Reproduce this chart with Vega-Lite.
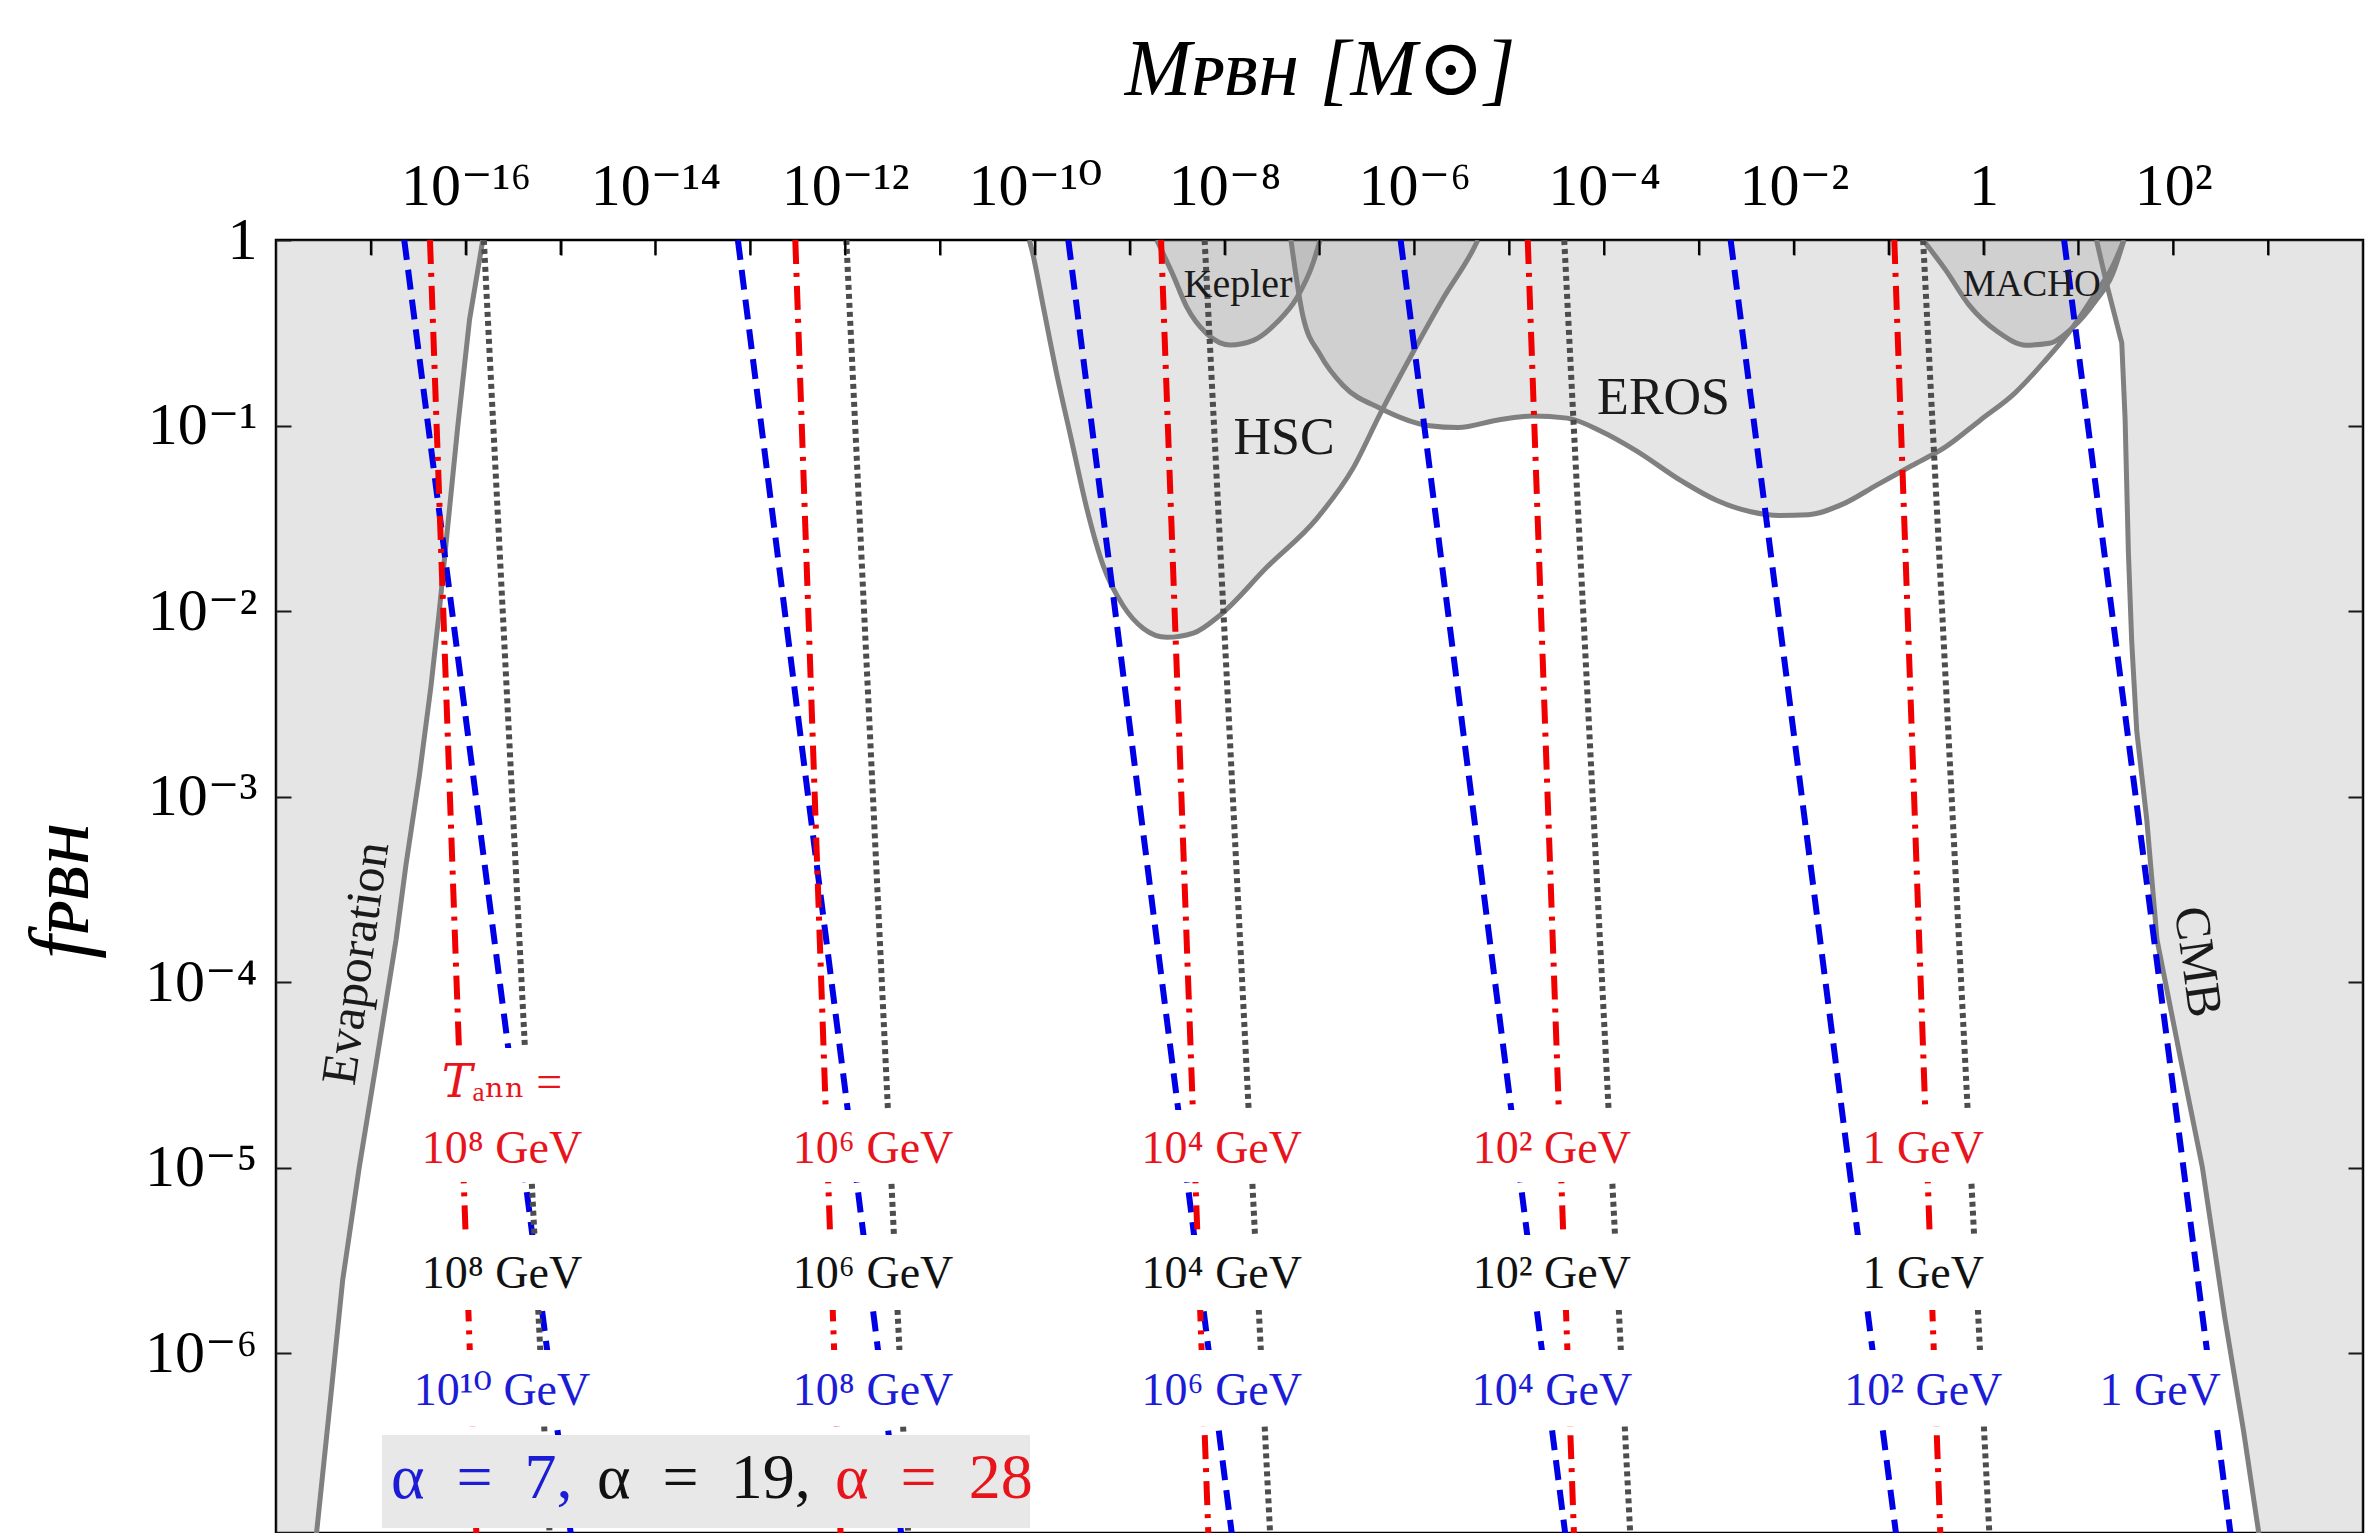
{
  "$schema": "https://vega.github.io/schema/vega-lite/v6.json",
  "width": 2087,
  "height": 1293,
  "autosize": {"type": "none"},
  "padding": {"left": 276, "top": 240, "right": 5, "bottom": 0},
  "background": "white",
  "config": {
    "font": "Liberation Serif, DejaVu Serif",
    "view": {"stroke": "black", "strokeWidth": 2.5},
    "axis": {"labelFont": "Liberation Serif, DejaVu Serif", "titleFont": "Liberation Serif, DejaVu Serif", "labelColor": "black", "titleColor": "black", "tickColor": "black", "tickWidth": 2, "ticks": true, "grid": false, "domain": false}
  },
  "datasets": {
    "regions": [
      {"region": "HSC", "i": 0, "M": 8.71e-11, "f": 1},
      {"region": "HSC", "i": 1, "M": 9.247e-11, "f": 0.8933},
      {"region": "HSC", "i": 2, "M": 1.227e-10, "f": 0.4355},
      {"region": "HSC", "i": 3, "M": 1.698e-10, "f": 0.1897},
      {"region": "HSC", "i": 4, "M": 2.443e-10, "f": 0.08241},
      {"region": "HSC", "i": 5, "M": 3.516e-10, "f": 0.03589},
      {"region": "HSC", "i": 6, "M": 5.26e-10, "f": 0.0175},
      {"region": "HSC", "i": 7, "M": 8.551e-10, "f": 0.01064},
      {"region": "HSC", "i": 8, "M": 1.39e-9, "f": 0.008054},
      {"region": "HSC", "i": 9, "M": 2.455e-9, "f": 0.007211},
      {"region": "HSC", "i": 10, "M": 4.677e-9, "f": 0.007603},
      {"region": "HSC", "i": 11, "M": 8.954e-9, "f": 0.009506},
      {"region": "HSC", "i": 12, "M": 2.78e-8, "f": 0.0172},
      {"region": "HSC", "i": 13, "M": 9.354e-8, "f": 0.0315},
      {"region": "HSC", "i": 14, "M": 2.275e-7, "f": 0.05929},
      {"region": "HSC", "i": 15, "M": 4.345e-7, "f": 0.1153},
      {"region": "HSC", "i": 16, "M": 9.75e-7, "f": 0.25},
      {"region": "HSC", "i": 17, "M": 2.023e-6, "f": 0.4864},
      {"region": "HSC", "i": 18, "M": 4.188e-6, "f": 0.8933},
      {"region": "HSC", "i": 19, "M": 4.677e-6, "f": 1},
      {"region": "Kepler", "i": 0, "M": 1.923e-9, "f": 1},
      {"region": "Kepler", "i": 1, "M": 2.877e-9, "f": 0.6427},
      {"region": "Kepler", "i": 2, "M": 3.981e-9, "f": 0.4355},
      {"region": "Kepler", "i": 3, "M": 6.471e-9, "f": 0.3126},
      {"region": "Kepler", "i": 4, "M": 1.14e-8, "f": 0.2716},
      {"region": "Kepler", "i": 5, "M": 2.009e-8, "f": 0.2877},
      {"region": "Kepler", "i": 6, "M": 3.54e-8, "f": 0.3589},
      {"region": "Kepler", "i": 7, "M": 5.754e-8, "f": 0.4864},
      {"region": "Kepler", "i": 8, "M": 8.61e-8, "f": 0.7586},
      {"region": "Kepler", "i": 9, "M": 1.014e-7, "f": 1},
      {"region": "EROS", "i": 0, "M": 5.0e-8, "f": 1},
      {"region": "EROS", "i": 1, "M": 6.699e-8, "f": 0.3873},
      {"region": "EROS", "i": 2, "M": 1.019e-7, "f": 0.2404},
      {"region": "EROS", "i": 3, "M": 1.774e-7, "f": 0.1644},
      {"region": "EROS", "i": 4, "M": 4.406e-7, "f": 0.1236},
      {"region": "EROS", "i": 5, "M": 1.439e-6, "f": 0.09977},
      {"region": "EROS", "i": 6, "M": 2.891e-6, "f": 0.0975},
      {"region": "EROS", "i": 7, "M": 7.638e-6, "f": 0.1072},
      {"region": "EROS", "i": 8, "M": 1.766e-5, "f": 0.1125},
      {"region": "EROS", "i": 9, "M": 4.074e-5, "f": 0.1096},
      {"region": "EROS", "i": 10, "M": 9.397e-5, "f": 0.0929},
      {"region": "EROS", "i": 11, "M": 2.168e-4, "f": 0.07328},
      {"region": "EROS", "i": 12, "M": 6.607e-4, "f": 0.05012},
      {"region": "EROS", "i": 13, "M": 1.528e-3, "f": 0.03954},
      {"region": "EROS", "i": 14, "M": 3.516e-3, "f": 0.03428},
      {"region": "EROS", "i": 15, "M": 7.063e-3, "f": 0.03273},
      {"region": "EROS", "i": 16, "M": 1.416e-2, "f": 0.03304},
      {"region": "EROS", "i": 17, "M": 3.273e-2, "f": 0.03767},
      {"region": "EROS", "i": 18, "M": 7.551e-2, "f": 0.04786},
      {"region": "EROS", "i": 19, "M": 0.1742, "f": 0.06067},
      {"region": "EROS", "i": 20, "M": 0.4018, "f": 0.07691},
      {"region": "EROS", "i": 21, "M": 0.929, "f": 0.1072},
      {"region": "EROS", "i": 22, "M": 2.138, "f": 0.1496},
      {"region": "EROS", "i": 23, "M": 4.295, "f": 0.2188},
      {"region": "EROS", "i": 24, "M": 8.61, "f": 0.3357},
      {"region": "EROS", "i": 25, "M": 15.07, "f": 0.514},
      {"region": "EROS", "i": 26, "M": 22.86, "f": 0.7178},
      {"region": "EROS", "i": 27, "M": 30.2, "f": 1},
      {"region": "MACHO", "i": 0, "M": 0.2301, "f": 1},
      {"region": "MACHO", "i": 1, "M": 0.4027, "f": 0.6839},
      {"region": "MACHO", "i": 2, "M": 0.7015, "f": 0.4467},
      {"region": "MACHO", "i": 3, "M": 1.409, "f": 0.3199},
      {"region": "MACHO", "i": 4, "M": 2.825, "f": 0.271},
      {"region": "MACHO", "i": 5, "M": 4.932, "f": 0.2773},
      {"region": "MACHO", "i": 6, "M": 8.61, "f": 0.3357},
      {"region": "MACHO", "i": 7, "M": 15.07, "f": 0.4677},
      {"region": "MACHO", "i": 8, "M": 22.86, "f": 0.6531},
      {"region": "MACHO", "i": 9, "M": 30.2, "f": 1},
      {"region": "Evaporation", "i": 0, "M": 1.514e-16, "f": 1},
      {"region": "Evaporation", "i": 1, "M": 1.096e-16, "f": 0.3707},
      {"region": "Evaporation", "i": 2, "M": 8.222e-17, "f": 0.0975},
      {"region": "Evaporation", "i": 3, "M": 6.194e-17, "f": 0.02307},
      {"region": "Evaporation", "i": 4, "M": 5.272e-17, "f": 0.01005},
      {"region": "Evaporation", "i": 5, "M": 4.305e-17, "f": 0.003945},
      {"region": "Evaporation", "i": 6, "M": 3.243e-17, "f": 0.001294},
      {"region": "Evaporation", "i": 7, "M": 2.344e-17, "f": 4.276e-4},
      {"region": "Evaporation", "i": 8, "M": 1.841e-17, "f": 1.683e-4},
      {"region": "Evaporation", "i": 9, "M": 1.132e-17, "f": 3.581e-5},
      {"region": "Evaporation", "i": 10, "M": 7.551e-18, "f": 1.007e-5},
      {"region": "Evaporation", "i": 11, "M": 5.047e-18, "f": 2.477e-6},
      {"region": "Evaporation", "i": 12, "M": 3.802e-18, "f": 6.012e-7},
      {"region": "Evaporation", "i": 13, "M": 2.858e-18, "f": 1.479e-7},
      {"region": "Evaporation", "i": 14, "M": 2.576e-18, "f": 8.913e-8},
      {"region": "CMB", "i": 0, "M": 15.5, "f": 1},
      {"region": "CMB", "i": 1, "M": 19.91, "f": 0.5754},
      {"region": "CMB", "i": 2, "M": 28.64, "f": 0.2793},
      {"region": "CMB", "i": 3, "M": 31.05, "f": 0.1089},
      {"region": "CMB", "i": 4, "M": 33.65, "f": 0.02065},
      {"region": "CMB", "i": 5, "M": 36.48, "f": 0.006823},
      {"region": "CMB", "i": 6, "M": 41.21, "f": 0.002254},
      {"region": "CMB", "i": 7, "M": 52.6, "f": 7.464e-4},
      {"region": "CMB", "i": 8, "M": 67.45, "f": 1.683e-4},
      {"region": "CMB", "i": 9, "M": 116.4, "f": 4.111e-5},
      {"region": "CMB", "i": 10, "M": 202.3, "f": 1.007e-5},
      {"region": "CMB", "i": 11, "M": 349.9, "f": 1.545e-6},
      {"region": "CMB", "i": 12, "M": 552.1, "f": 3.767e-7},
      {"region": "CMB", "i": 13, "M": 796.2, "f": 1.072e-7},
      {"region": "CMB", "i": 14, "M": 851.1, "f": 8.913e-8}
    ],
    "curves": [
      {"id": "b1", "alpha": "7", "M": 2.249e-17, "f": 1},
      {"id": "b1", "alpha": "7", "M": 1.3e-15, "f": 1e-7},
      {"id": "r1", "alpha": "28", "M": 4.198e-17, "f": 1},
      {"id": "r1", "alpha": "28", "M": 1.3e-16, "f": 1e-7},
      {"id": "k1", "alpha": "19", "M": 1.552e-16, "f": 1},
      {"id": "k1", "alpha": "19", "M": 7.709e-16, "f": 1e-7},
      {"id": "b2", "alpha": "7", "M": 7.396e-14, "f": 1},
      {"id": "b2", "alpha": "7", "M": 3.954e-12, "f": 1e-7},
      {"id": "r2", "alpha": "28", "M": 2.979e-13, "f": 1},
      {"id": "r2", "alpha": "28", "M": 8.974e-13, "f": 1e-7},
      {"id": "k2", "alpha": "19", "M": 1.028e-12, "f": 1},
      {"id": "k2", "alpha": "19", "M": 4.645e-12, "f": 1e-7},
      {"id": "b3", "alpha": "7", "M": 2.249e-10, "f": 1},
      {"id": "b3", "alpha": "7", "M": 1.208e-8, "f": 1e-7},
      {"id": "r3", "alpha": "28", "M": 2.138e-9, "f": 1},
      {"id": "r3", "alpha": "28", "M": 6.761e-9, "f": 1e-7},
      {"id": "k3", "alpha": "19", "M": 6.152e-9, "f": 1},
      {"id": "k3", "alpha": "19", "M": 3.034e-8, "f": 1e-7},
      {"id": "b4", "alpha": "7", "M": 7.161e-7, "f": 1},
      {"id": "b4", "alpha": "7", "M": 3.954e-5, "f": 1e-7},
      {"id": "r4", "alpha": "28", "M": 1.567e-5, "f": 1},
      {"id": "r4", "alpha": "28", "M": 4.831e-5, "f": 1e-7},
      {"id": "k4", "alpha": "19", "M": 3.802e-5, "f": 1},
      {"id": "k4", "alpha": "19", "M": 1.897e-4, "f": 1e-7},
      {"id": "b5", "alpha": "7", "M": 2.158e-3, "f": 1},
      {"id": "b5", "alpha": "7", "M": 0.1213, "f": 1e-7},
      {"id": "r5", "alpha": "28", "M": 0.1146, "f": 1},
      {"id": "r5", "alpha": "28", "M": 0.3516, "f": 1e-7},
      {"id": "k5", "alpha": "19", "M": 0.2307, "f": 1},
      {"id": "k5", "alpha": "19", "M": 1.159, "f": 1e-7},
      {"id": "b6", "alpha": "7", "M": 7.063, "f": 1},
      {"id": "b6", "alpha": "7", "M": 407.4, "f": 1e-7}
    ],
    "boxes": [
      {"M": 2.649e-17, "M2": 2.249e-15, "f": 8.356e-6, "f2": 4.406e-5},
      {"M": 2.649e-17, "M2": 2.249e-15, "f": 1.706e-6, "f2": 4.325e-6},
      {"M": 2.183e-17, "M2": 2.871e-15, "f": 4.036e-7, "f2": 1.038e-6},
      {"M": 2.158e-13, "M2": 1.832e-11, "f": 8.356e-6, "f2": 2.042e-5},
      {"M": 2.158e-13, "M2": 1.832e-11, "f": 1.706e-6, "f2": 4.325e-6},
      {"M": 2.158e-13, "M2": 1.832e-11, "f": 4.036e-7, "f2": 1.038e-6},
      {"M": 1.057e-9, "M2": 8.974e-8, "f": 8.356e-6, "f2": 2.042e-5},
      {"M": 1.057e-9, "M2": 8.974e-8, "f": 1.706e-6, "f2": 4.325e-6},
      {"M": 1.057e-9, "M2": 8.974e-8, "f": 4.036e-7, "f2": 1.038e-6},
      {"M": 3.034e-6, "M2": 2.576e-4, "f": 8.356e-6, "f2": 2.042e-5},
      {"M": 3.034e-6, "M2": 2.576e-4, "f": 1.706e-6, "f2": 4.325e-6},
      {"M": 3.034e-6, "M2": 2.576e-4, "f": 4.036e-7, "f2": 1.038e-6},
      {"M": 4.426e-2, "M2": 1.23, "f": 8.356e-6, "f2": 2.042e-5},
      {"M": 4.217e-2, "M2": 1.262, "f": 1.706e-6, "f2": 4.325e-6},
      {"M": 2.529e-2, "M2": 2.099, "f": 4.036e-7, "f2": 1.038e-6},
      {"M": 13.27, "M2": 369.0, "f": 4.036e-7, "f2": 1.038e-6}
    ],
    "legendbox": [
      {"M": 1.309e-17, "M2": 8.892e-11, "f": 1.14e-7, "f2": 3.614e-7}
    ],
    "decades": [
      {"M": 1e-17}, {"M": 1e-16}, {"M": 1e-15}, {"M": 1e-14}, {"M": 1e-13}, {"M": 1e-12}, {"M": 1e-11},
      {"M": 1e-10}, {"M": 1e-9}, {"M": 1e-8}, {"M": 1e-7}, {"M": 1e-6}, {"M": 1e-5}, {"M": 1e-4},
      {"M": 0.001}, {"M": 0.01}, {"M": 0.1}, {"M": 1}, {"M": 10}, {"M": 100}, {"M": 1000}
    ],
    "labels": [
      {"label": "𝑇ₐₙₙ =", "M": 2.41e-16, "f": 2.399e-5, "alpha": "28"},
      {"label": "10⁸ GeV", "M": 2.41e-16, "f": 1.057e-5, "alpha": "28"},
      {"label": "10⁸ GeV", "M": 2.41e-16, "f": 2.239e-6, "alpha": "19"},
      {"label": "10¹⁰ GeV", "M": 2.41e-16, "f": 5.248e-7, "alpha": "7"},
      {"label": "10⁶ GeV", "M": 1.968e-12, "f": 1.057e-5, "alpha": "28"},
      {"label": "10⁶ GeV", "M": 1.968e-12, "f": 2.239e-6, "alpha": "19"},
      {"label": "10⁸ GeV", "M": 1.968e-12, "f": 5.248e-7, "alpha": "7"},
      {"label": "10⁴ GeV", "M": 9.333e-9, "f": 1.057e-5, "alpha": "28"},
      {"label": "10⁴ GeV", "M": 9.333e-9, "f": 2.239e-6, "alpha": "19"},
      {"label": "10⁶ GeV", "M": 9.333e-9, "f": 5.248e-7, "alpha": "7"},
      {"label": "10² GeV", "M": 2.818e-5, "f": 1.057e-5, "alpha": "28"},
      {"label": "10² GeV", "M": 2.818e-5, "f": 2.239e-6, "alpha": "19"},
      {"label": "10⁴ GeV", "M": 2.818e-5, "f": 5.248e-7, "alpha": "7"},
      {"label": "1 GeV", "M": 0.2312, "f": 1.057e-5, "alpha": "28"},
      {"label": "1 GeV", "M": 0.2312, "f": 2.239e-6, "alpha": "19"},
      {"label": "10² GeV", "M": 0.2312, "f": 5.248e-7, "alpha": "7"},
      {"label": "1 GeV", "M": 72.61, "f": 5.248e-7, "alpha": "7"}
    ],
    "legend": [
      {"label": "α\u2002=\u20027,", "M": 1.629e-17, "f": 1.656e-7, "alpha": "7"},
      {"label": "α\u2002=\u200219,", "M": 2.421e-15, "f": 1.656e-7, "alpha": "19"},
      {"label": "α\u2002=\u200228", "M": 7.816e-13, "f": 1.656e-7, "alpha": "28"}
    ],
    "annot": [
      {"label": "Kepler", "M": 1.384e-8, "f": 0.5715},
      {"label": "HSC", "M": 4.227e-8, "f": 0.0861},
      {"label": "EROS", "M": 4.236e-4, "f": 0.1406},
      {"label": "MACHO", "M": 3.221, "f": 0.5715},
      {"label": "Evaporation", "M": 7.079e-18, "f": 1.259e-4},
      {"label": "CMB", "M": 178.2, "f": 1.282e-4}
    ]
  },
  "encoding": {
    "x": {"field": "M", "type": "quantitative", "scale": {"type": "log", "domain": [1e-18, 10000], "nice": false},
      "axis": {"orient": "top", "offset": -15, "values": [1e-17, 1e-16, 1e-15, 1e-14, 1e-13, 1e-12, 1e-11, 1e-10, 1e-9, 1e-8, 1e-7, 1e-6, 1e-5, 1e-4, 0.001, 0.01, 0.1, 1, 10, 100, 1000],
        "labelExpr": "['','10⁻¹⁶','','10⁻¹⁴','','10⁻¹²','','10⁻¹⁰','','10⁻⁸','','10⁻⁶','','10⁻⁴','','10⁻²','','1','','10²',''][round(log(datum.value)/LN10)+17]",
        "labelFontSize": 60, "labelPadding": 36, "labelBaseline": "alphabetic", "labelOverlap": false, "labelFlush": false,
        "ticks": true, "tickSize": 15, "tickWidth": 2, "tickColor": "black", "tickOpacity": 1,
        "title": "Mᴘʙʜ [M⊙]", "titleFontSize": 80, "titleFontWeight": "normal", "titleFontStyle": "italic", "titleBaseline": "alphabetic", "titleY": -161}}
  },
  "layer": [
    {
      "data": {"name": "regions"},
      "transform": [{"filter": {"field": "region", "oneOf": ["HSC", "Kepler", "EROS", "MACHO"]}}],
      "mark": {"type": "area", "fill": "#7f7f7f", "fillOpacity": 0.2, "interpolate": "monotone", "clip": true},
      "encoding": {
        "y": {"field": "f", "type": "quantitative", "stack": null, "scale": {"type": "log", "domain": [1.0715e-7, 1], "nice": false},
          "axis": {"orient": "left", "values": [1e-6, 1e-5, 1e-4, 0.001, 0.01, 0.1, 1],
            "labelExpr": "['10⁻⁶','10⁻⁵','10⁻⁴','10⁻³','10⁻²','10⁻¹','1'][round(log(datum.value)/LN10)+6]",
            "labelFontSize": 60, "labelPadding": 34, "labelBaseline": "middle", "labelOverlap": false, "labelFlush": false,
            "tickSize": -15,
            "title": "fᴘʙʜ", "titleFontSize": 84, "titleFontWeight": "normal", "titleFontStyle": "italic", "titleAngle": -90, "titleBaseline": "middle", "titleAlign": "center", "titleX": -214, "titleY": 650}},
        "y2": {"datum": 1},
        "detail": {"field": "region"}
      }
    },
    {
      "data": {"name": "regions"},
      "transform": [{"filter": "datum.region == 'Evaporation'"}],
      "mark": {"type": "area", "orient": "horizontal", "fill": "#7f7f7f", "fillOpacity": 0.2, "clip": true},
      "encoding": {
        "y": {"field": "f", "type": "quantitative", "stack": null, "scale": {"type": "log", "domain": [1.0715e-7, 1], "nice": false},
          "axis": {"orient": "right", "values": [1e-6, 1e-5, 1e-4, 0.001, 0.01, 0.1], "labels": false, "tickSize": -15, "title": null}},
        "x2": {"datum": 1e-18}
      }
    },
    {
      "data": {"name": "regions"},
      "transform": [{"filter": "datum.region == 'CMB'"}],
      "mark": {"type": "area", "orient": "horizontal", "fill": "#7f7f7f", "fillOpacity": 0.2, "clip": true},
      "encoding": {
        "y": {"field": "f", "type": "quantitative", "stack": null, "scale": {"type": "log", "domain": [1.0715e-7, 1], "nice": false}, "axis": null},
        "x2": {"datum": 10000}
      }
    },
    {
      "data": {"name": "regions"},
      "transform": [{"filter": {"field": "region", "oneOf": ["HSC", "Kepler", "EROS", "MACHO"]}}],
      "mark": {"type": "line", "stroke": "#808080", "strokeWidth": 5, "interpolate": "monotone", "clip": true},
      "encoding": {
        "y": {"field": "f", "type": "quantitative", "scale": {"type": "log", "domain": [1.0715e-7, 1], "nice": false}, "axis": null},
        "detail": {"field": "region"},
        "order": {"field": "i"}
      }
    },
    {
      "data": {"name": "regions"},
      "transform": [{"filter": {"field": "region", "oneOf": ["Evaporation", "CMB"]}}],
      "mark": {"type": "line", "stroke": "#808080", "strokeWidth": 5, "clip": true},
      "encoding": {
        "y": {"field": "f", "type": "quantitative", "scale": {"type": "log", "domain": [1.0715e-7, 1], "nice": false}, "axis": null},
        "detail": {"field": "region"},
        "order": {"field": "i"}
      }
    },
    {
      "data": {"name": "curves"},
      "mark": {"type": "line", "strokeWidth": 6, "strokeCap": "butt", "clip": true},
      "encoding": {
        "y": {"field": "f", "type": "quantitative", "scale": {"type": "log", "domain": [1.0715e-7, 1], "nice": false}, "axis": null},
        "detail": {"field": "id"},
        "stroke": {"field": "alpha", "type": "nominal", "scale": {"domain": ["7", "19", "28"], "range": ["#0000e6", "#4d4d4d", "#f00000"]}, "legend": null},
        "strokeDash": {"field": "alpha", "type": "nominal", "scale": {"domain": ["7", "19", "28"], "range": [[20, 10], [5, 4], [24, 9, 4, 9]]}, "legend": null}
      }
    },
    {
      "data": {"name": "boxes"},
      "mark": {"type": "rect", "fill": "white", "clip": true},
      "encoding": {
        "x2": {"field": "M2"},
        "y": {"field": "f", "type": "quantitative", "scale": {"type": "log", "domain": [1.0715e-7, 1], "nice": false}, "axis": null},
        "y2": {"field": "f2"}
      }
    },
    {
      "data": {"name": "legendbox"},
      "mark": {"type": "rect", "fill": "#e8e8e8", "clip": true},
      "encoding": {
        "x2": {"field": "M2"},
        "y": {"field": "f", "type": "quantitative", "scale": {"type": "log", "domain": [1.0715e-7, 1], "nice": false}, "axis": null},
        "y2": {"field": "f2"}
      }
    },
    {
      "data": {"name": "labels"},
      "mark": {"type": "text", "fontSize": 46, "align": "center", "baseline": "alphabetic"},
      "encoding": {
        "y": {"field": "f", "type": "quantitative", "scale": {"type": "log", "domain": [1.0715e-7, 1], "nice": false}, "axis": null},
        "text": {"field": "label"},
        "color": {"field": "alpha", "type": "nominal", "scale": {"domain": ["7", "19", "28"], "range": ["#1c1cd6", "#111111", "#e8141c"]}, "legend": null}
      }
    },
    {
      "data": {"name": "legend"},
      "mark": {"type": "text", "fontSize": 64, "align": "left", "baseline": "alphabetic"},
      "encoding": {
        "y": {"field": "f", "type": "quantitative", "scale": {"type": "log", "domain": [1.0715e-7, 1], "nice": false}, "axis": null},
        "text": {"field": "label"},
        "color": {"field": "alpha", "type": "nominal", "scale": {"domain": ["7", "19", "28"], "range": ["#1c1cd6", "#111111", "#e8141c"]}, "legend": null}
      }
    },
    {
      "data": {"name": "annot"},
      "transform": [{"filter": "datum.label == 'Kepler'"}],
      "mark": {"type": "text", "fontSize": 40, "align": "center", "baseline": "middle", "color": "#1a1a1a"},
      "encoding": {
        "y": {"field": "f", "type": "quantitative", "scale": {"type": "log", "domain": [1.0715e-7, 1], "nice": false}, "axis": null},
        "text": {"field": "label"}
      }
    },
    {
      "data": {"name": "annot"},
      "transform": [{"filter": "datum.label == 'HSC' || datum.label == 'EROS'"}],
      "mark": {"type": "text", "fontSize": 52, "align": "center", "baseline": "middle", "color": "#1a1a1a"},
      "encoding": {
        "y": {"field": "f", "type": "quantitative", "scale": {"type": "log", "domain": [1.0715e-7, 1], "nice": false}, "axis": null},
        "text": {"field": "label"}
      }
    },
    {
      "data": {"name": "annot"},
      "transform": [{"filter": "datum.label == 'MACHO'"}],
      "mark": {"type": "text", "fontSize": 37, "align": "center", "baseline": "middle", "color": "#1a1a1a"},
      "encoding": {
        "y": {"field": "f", "type": "quantitative", "scale": {"type": "log", "domain": [1.0715e-7, 1], "nice": false}, "axis": null},
        "text": {"field": "label"}
      }
    },
    {
      "data": {"name": "annot"},
      "transform": [{"filter": "datum.label == 'Evaporation'"}],
      "mark": {"type": "text", "fontSize": 50, "align": "center", "baseline": "middle", "angle": -82, "color": "#1a1a1a"},
      "encoding": {
        "y": {"field": "f", "type": "quantitative", "scale": {"type": "log", "domain": [1.0715e-7, 1], "nice": false}, "axis": null},
        "text": {"field": "label"}
      }
    },
    {
      "data": {"name": "annot"},
      "transform": [{"filter": "datum.label == 'CMB'"}],
      "mark": {"type": "text", "fontSize": 50, "align": "center", "baseline": "middle", "angle": 82, "color": "#1a1a1a"},
      "encoding": {
        "y": {"field": "f", "type": "quantitative", "scale": {"type": "log", "domain": [1.0715e-7, 1], "nice": false}, "axis": null},
        "text": {"field": "label"}
      }
    },
    {
      "data": {"name": "decades"},
      "mark": {"type": "rule", "stroke": "black", "strokeWidth": 2, "clip": true},
      "encoding": {
        "y": {"datum": 1, "type": "quantitative", "scale": {"type": "log", "domain": [1.0715e-7, 1], "nice": false}, "axis": null},
        "y2": {"datum": 0.8301}
      }
    }
  ],
  "resolve": {"axis": {"y": "independent"}}
}
